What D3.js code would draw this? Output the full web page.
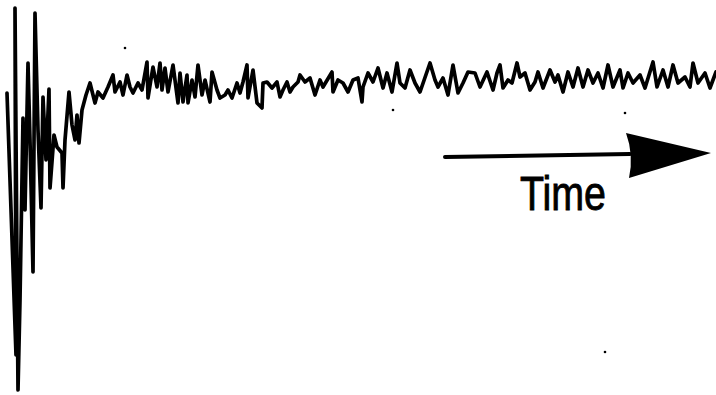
<!DOCTYPE html>
<html>
<head>
<meta charset="utf-8">
<script src="https://cdn.jsdelivr.net/npm/d3@7"></script>
<style>
  html, body { margin: 0; padding: 0; background: #fff; }
  svg { display: block; }
</style>
</head>
<body>
<svg id="chart" width="716" height="395"></svg>
<script>
// Time samples (horizontal units) and signal amplitude (baseline = 0, up = positive)
const time = [7,16,15,18,20,23,25,28,30,33,35,38,41,43,46,49,50,54,57,62,63,65,69,72,75,77,79,82,86,90,
  95,98,103,108,113,115,120,123,127,130,133,138,142,147,148,152,153,157,160,162,165,168,173,178,180,183,187,188,192,195,
  198,202,205,210,212,217,220,225,228,232,237,240,243,247,248,253,257,262,263,267,272,277,280,283,287,290,293,298,
  300,305,310,315,320,323,332,333,338,343,348,353,358,362,363,368,373,378,383,387,392,397,400,405,410,415,420,430,435,438,
  443,448,453,458,463,468,475,480,487,493,497,500,503,508,512,517,520,525,530,535,538,543,550,555,558,563,568,573,578,583,
  588,593,598,603,608,613,620,623,628,633,640,645,653,657,663,668,673,678,685,690,693,698,705,710,716];
const amplitude = [-3,-265,82,-300,-210,-28,-120,27,-50,-182,77,-40,-118,-7,-70,1,-98,-45,-57,-63,-98,-50,-2,-35,-50,-25,-53,-20,-5,7,
  -13,-2,-8,3,15,-2,8,-5,15,3,-3,7,0,28,-8,17,23,3,27,0,22,-2,25,-13,17,-12,15,-13,10,-7,
  25,-5,10,-12,18,0,-8,-5,0,-8,7,-3,8,25,-8,20,-13,-18,7,8,2,8,-7,0,8,-2,3,8,
  15,8,12,-5,10,3,18,-2,10,7,-2,10,12,-12,3,17,8,22,2,17,-2,27,7,2,20,7,-2,27,10,3,
  12,-5,25,-3,7,18,17,3,18,0,17,25,2,10,7,27,13,17,0,8,18,2,20,8,15,-2,18,3,22,3,
  20,7,17,2,25,3,20,2,17,7,15,2,28,3,20,3,25,7,13,3,27,7,17,2,18];
// stray specks on the scanned record (time, amplitude)
const speckTime = [125, 393, 625, 605];
const speckAmp = [42, -20, -23, -262];
const label = "Time";

const svg = d3.select("#chart");
const x = d3.scaleLinear().domain([0, 716]).range([0, 716]);
const y = d3.scaleLinear().domain([90, -305]).range([0, 395]);

const data = time.map((t, i) => ({t, v: amplitude[i]}));
const line = d3.line().x(d => x(d.t)).y(d => y(d.v));

svg.append("path")
  .datum(data)
  .attr("d", line)
  .attr("fill", "none")
  .attr("stroke", "#000")
  .attr("stroke-width", 3.7)
  .attr("stroke-linejoin", "round")
  .attr("stroke-linecap", "round");

svg.selectAll("circle.speck")
  .data(speckTime.map((t, i) => ({t, v: speckAmp[i]})))
  .join("circle")
  .attr("class", "speck")
  .attr("cx", d => x(d.t))
  .attr("cy", d => y(d.v))
  .attr("r", 1.3)
  .attr("fill", "#000");

// Time arrow
const g = svg.append("g");
g.append("line")
  .attr("x1", 445).attr("y1", 157)
  .attr("x2", 630).attr("y2", 154)
  .attr("stroke", "#000")
  .attr("stroke-width", 4)
  .attr("stroke-linecap", "round");
g.append("path")
  .attr("d", "M626,133 L711,153 L629,178 Q634,155 626,133 Z")
  .attr("fill", "#000");

g.append("text")
  .attr("x", 520).attr("y", 210)
  .attr("font-family", "Liberation Sans, Arial, sans-serif")
  .attr("font-size", 48)
  .attr("textLength", 86)
  .attr("lengthAdjust", "spacingAndGlyphs")
  .attr("fill", "#000")
  .attr("stroke", "#000")
  .attr("stroke-width", 0.9)
  .text(label);
</script>
</body>
</html>
